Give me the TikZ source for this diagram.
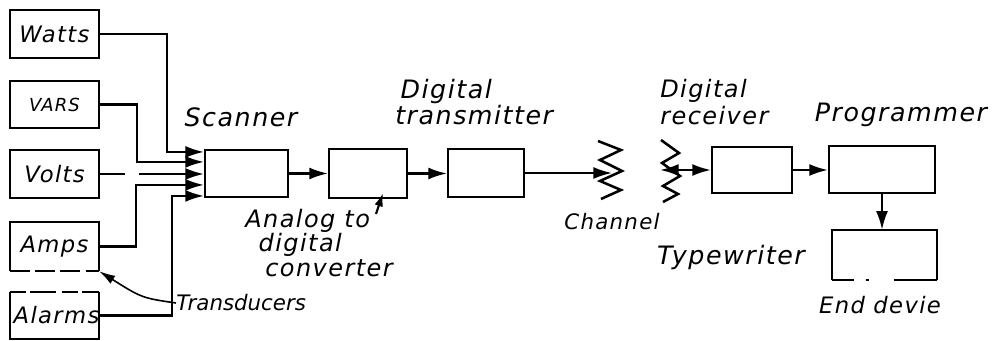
\documentclass[tikz,border=0pt]{standalone}
\usepackage{fontspec}
\setmainfont{DejaVu Sans}[LetterSpace=6]
\usetikzlibrary{arrows.meta,calc}
\begin{document}
\begin{tikzpicture}[x=0.75pt,y=-0.75pt,
  blk/.style={draw,line width=1.6pt,inner sep=0pt,minimum width=#1},
  blk/.default=66.75pt,
  nob/.style={inner sep=0pt,minimum width=#1},
  nob/.default=66.75pt,
  boxtxt/.style={font=\itshape\fontsize{17}{19}\selectfont},
  lbl/.style={inner sep=0pt,font=\itshape\fontsize{19}{20}\selectfont},
  wire/.style={line width=1.6pt},
  arr/.style={wire,-{Latex[length=14pt,width=9pt]}},
  zig/.style={line width=1.9pt,line join=miter},
]
\useasboundingbox (0,0) rectangle (1000,341);

% left boxes
\node[blk,minimum height=36pt,boxtxt] (watts) at (54.5,34) {Watts};
\node[blk,minimum height=35.25pt,font=\itshape\fontsize{13.5}{15}\selectfont] (vars) at (54.5,104.5) {VARS};
\node[blk,minimum height=36pt,boxtxt] (volts) at (54.5,174) {Volts};
\node[nob,minimum height=36.75pt,boxtxt] (amps) at (54.5,246.5) {Amps};
\node[nob,minimum height=35.25pt,boxtxt] (alarms) at (54.5,315.5) {\makebox[0pt]{\hspace{3pt}Alarms}};
\draw[wire] (amps.south west) -- (amps.north west) -- (amps.north east) -- (amps.south east);
\draw[wire,dash pattern=on 15pt off 4pt] (amps.south west) -- (amps.south east);
\draw[wire] (alarms.north west) -- (alarms.south west) -- (alarms.south east) -- (alarms.north east);
\draw[wire,dash pattern=on 12pt off 3pt on 20pt off 4pt] (alarms.north west) -- (alarms.north east);

% main chain boxes
\node[blk=62.25pt,minimum height=35.25pt] (scanner) at (246.5,173.5) {};
\node[blk=58.5pt,minimum height=36.75pt] (adc) at (368,173.5) {};
\node[blk=57pt,minimum height=36pt] (tx) at (486,173) {};
\node[blk=60pt,minimum height=34.5pt] (rx) at (752,170) {};
\node[blk=79.5pt,minimum height=35.25pt] (prog) at (882,169.5) {};
\node[nob=78.75pt,minimum height=37.5pt] (enddev) at (884.5,255) {};
\draw[wire] (enddev.south west) -- (enddev.north west) -- (enddev.north east) -- (enddev.south east);
\draw[wire,dash pattern=on 16.5pt off 9pt on 2.25pt off 18.75pt on 33pt] (enddev.south west) -- (enddev.south east);

% scanner inputs
\coordinate (in1) at ($(scanner.north west)+(0,3)$);
\coordinate (in2) at ($(scanner.north west)+(0,13)$);
\coordinate (in3) at (volts.east -| scanner.west);
\coordinate (in4) at ($(scanner.north west)+(0,36)$);
\coordinate (in5) at ($(scanner.north west)+(0,47)$);
\draw[arr] (watts.east) -- ++(67,0) |- (in1);
\draw[arr] (vars.east) -- ++(37,0) |- (in2);
\draw[arr,dash pattern=on 19pt off 10pt on 200pt] (volts.east) -- (in3);
\draw[arr] (amps.east) -- ++(37,0) |- (in4);
\draw[arr] (alarms.east) -- ++(73,0) |- (in5);

% chain connectors
\draw[arr] (scanner.east) -- (scanner.east -| adc.west);
\draw[arr] (adc.east) -- (adc.east -| tx.west);

% channel
\draw[zig] (598,141) -- (621,150) -- (600,160) -- (622,171) -- (600,181) -- (621,190) -- (601,199);
\draw[zig] (661,140) -- (679,153) -- (662,163) -- (680,176) -- (663,186) -- (678,194) -- (663,202);
\coordinate (ch1) at (612,173);
\coordinate (ch2) at (660,170);
\draw[arr] (tx.east) -- (tx.east -| ch1);
\draw[wire,{Latex[length=14pt,width=9pt]}-{Latex[length=14pt,width=9pt]}] (ch2) -- (rx.west);
\draw[arr] (rx.east) -- (rx.east -| prog.west);
\draw[arr] (prog.south) -- (prog.south |- enddev.north);

% converter pointer
\coordinate (adcp) at (376,214);
\draw[wire,-{Latex[length=10pt,width=6.5pt]}] (adcp) -- ($(adc.south)+(15,-6)$);

% labels
\node[lbl] (lscan) at (241,117) {Scanner};
\node[lbl,anchor=west,align=left] (ltx) at (395,102) {\hspace{4pt}Digital\\transmitter};
\node[lbl,anchor=west,align=left,font=\itshape\fontsize{18}{20}\selectfont] (lrx) at (660,102) {Digital\\receiver};
\node[lbl] (lprog) at (901,115) {Programmer};
\node[lbl,anchor=west,align=left,font=\itshape\fontsize{18}{18.5}\selectfont] (ladc) at (245,243) {Analog to\\\hspace{10pt}digital\\\hspace{15pt}converter};
\node[lbl,font=\itshape\fontsize{16}{18}\selectfont] (lch) at (612,222) {Channel};
\node[lbl] (ltw) at (731,258) {Typewriter};
\node[lbl,font=\itshape\fontsize{17}{19}\selectfont] (lend) at (880,305) {End devie};
\node[lbl,anchor=west,font=\itshape\fontsize{16}{18}\selectfont\addfontfeatures{LetterSpace=0}] (trans) at (176,303) {Transducers};
\draw[wire,line width=1.2pt,-{Latex[length=12pt,width=7pt]}] (trans.west) .. controls (142,298) .. (amps.south east);
\end{tikzpicture}
\end{document}
